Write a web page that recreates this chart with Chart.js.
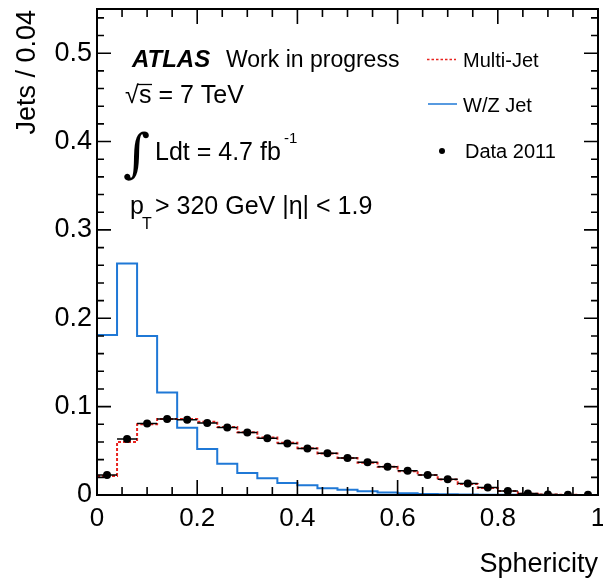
<!DOCTYPE html>
<html>
<head>
<meta charset="utf-8">
<script src="https://cdn.jsdelivr.net/npm/chart.js@4.4.0/dist/chart.umd.min.js"></script>
<style>
  html, body { margin: 0; padding: 0; background: #fff; }
  #wrap { width: 603px; height: 578px; }
</style>
</head>
<body>
<div id="wrap"><canvas id="graph" width="603" height="578"></canvas></div>
<script>
// bin edges of the sphericity histogram (width 0.04)
const binEdges = [0, 0.04, 0.08, 0.12, 0.16, 0.2, 0.24, 0.28, 0.32, 0.36, 0.4, 0.44, 0.48,
                  0.52, 0.56, 0.6, 0.64, 0.68, 0.72, 0.76, 0.8, 0.84, 0.88, 0.92, 0.96, 1.0];

// W/Z Jet (blue)
const wzJet = [0.181, 0.262, 0.180, 0.116, 0.076, 0.052, 0.0355, 0.025, 0.019, 0.0136,
               0.011, 0.0076, 0.006, 0.0042, 0.0027, 0.0019, 0.0012, 0.0008, 0.0006, 0.0004,
               0.0003, 0.0002, 0.0001, 0.0001, 0.0];

// Multi-Jet (red dotted)
const multiJet = [0.0215, 0.060, 0.080, 0.086, 0.086, 0.083, 0.077, 0.071, 0.065, 0.059,
                  0.053, 0.047, 0.042, 0.0365, 0.032, 0.027, 0.0225, 0.0175, 0.0125, 0.008,
                  0.0045, 0.0015, 0.0006, 0.0003, 0.0001];

// Data 2011 (black points)
const data2011 = [0.0227, 0.0634, 0.081, 0.086, 0.0853, 0.0816, 0.0763, 0.0706, 0.0642, 0.0584,
                  0.0525, 0.0472, 0.0419, 0.037, 0.032, 0.0275, 0.0227, 0.0178, 0.013, 0.0085,
                  0.0044, 0.0018, 0.0005, 0.0003, 0.0002];

const xTicks = [0, 0.2, 0.4, 0.6, 0.8, 1];
const yTicks = [0, 0.1, 0.2, 0.3, 0.4, 0.5];
const xLabels = ['0', '0.2', '0.4', '0.6', '0.8', '1'];
const yLabels = ['0', '0.1', '0.2', '0.3', '0.4', '0.5'];

const FONT = '"Liberation Sans", Arial, Helvetica, sans-serif';

// step points: value of bin i at its left edge, last value repeated at the end
function stepPoints(vals) {
    return binEdges.map((e, i) => ({ x: e, y: vals[Math.min(i, vals.length - 1)] }));
}

// horizontal error bars spanning the bin width
function xErrorBars(vals) {
    const pts = [];
    vals.forEach((v, i) => {
        pts.push({ x: binEdges[i], y: v });
        pts.push({ x: binEdges[i + 1], y: v });
        pts.push({ x: binEdges[i + 1], y: null });
    });
    return pts;
}

function binCenters(vals) {
    return vals.map((v, i) => ({ x: (binEdges[i] + binEdges[i + 1]) / 2, y: v }));
}

// frame, inner ticks and the text block, ROOT style
const framePlugin = {
    id: 'frame',
    afterDraw(chart) {
        const ctx = chart.ctx;
        const a = chart.chartArea;
        const xs = chart.scales.x, ys = chart.scales.y;
        ctx.save();
        ctx.strokeStyle = '#000';
        ctx.lineWidth = 2;
        ctx.strokeRect(a.left, a.top, a.right - a.left, a.bottom - a.top);
        ctx.lineWidth = 1.6;
        ctx.beginPath();
        for (let k = 0; k <= 20; k++) {
            const px = xs.getPixelForValue(k * 0.05);
            const len = (k % 4 === 0) ? 15 : 8;
            ctx.moveTo(px, a.bottom); ctx.lineTo(px, a.bottom - len);
            ctx.moveTo(px, a.top); ctx.lineTo(px, a.top + len);
        }
        for (let k = 0; k <= 27; k++) {
            const py = ys.getPixelForValue(k * 0.02);
            const len = (k % 5 === 0) ? 14 : 7;
            ctx.moveTo(a.left, py); ctx.lineTo(a.left + len, py);
            ctx.moveTo(a.right, py); ctx.lineTo(a.right - len, py);
        }
        ctx.stroke();

        // axis titles
        ctx.fillStyle = '#000';
        ctx.font = '27px ' + FONT;
        ctx.textAlign = 'right';
        ctx.textBaseline = 'alphabetic';
        ctx.fillText('Sphericity', a.right, 572);
        ctx.save();
        ctx.translate(35, 10);
        ctx.rotate(-Math.PI / 2);
        ctx.fillText('Jets / 0.04', 0, 0);
        ctx.restore();

        // ATLAS label block
        ctx.textAlign = 'left';
        ctx.font = 'italic bold 24px ' + FONT;
        ctx.fillText('ATLAS', 132, 67);
        ctx.font = '23px ' + FONT;
        ctx.fillText('Work in progress', 226, 67);

        ctx.font = '25px ' + FONT;
        ctx.fillText('\u221A', 125, 103);
        ctx.fillText('s = 7 TeV', 139, 103);
        ctx.lineWidth = 1.3;
        ctx.beginPath();
        ctx.moveTo(138, 84.5); ctx.lineTo(152, 84.5);
        ctx.stroke();

        ctx.font = '52px "DejaVu Serif", serif';
        ctx.fillText('\u222B', 123, 171);
        ctx.font = '25px ' + FONT;
        ctx.fillText('Ldt = 4.7 fb', 155, 160);
        ctx.font = '15px ' + FONT;
        ctx.fillText('-1', 284, 143);

        ctx.font = '25px ' + FONT;
        ctx.fillText('p', 130, 214);
        ctx.font = '16px ' + FONT;
        ctx.fillText('T', 142, 229);
        ctx.font = '25px ' + FONT;
        ctx.fillText('> 320 GeV |\u03B7| < 1.9', 155, 214);

        // legend
        ctx.font = '20px ' + FONT;
        ctx.textBaseline = 'middle';
        ctx.fillText('Multi-Jet', 463, 61);
        ctx.fillText('W/Z Jet', 463, 106);
        ctx.fillText('Data 2011', 465, 152);
        ctx.lineWidth = 1.5;
        ctx.strokeStyle = '#e8231f';
        ctx.setLineDash([2.5, 2]);
        ctx.beginPath(); ctx.moveTo(427, 59.5); ctx.lineTo(456, 59.5); ctx.stroke();
        ctx.setLineDash([]);
        ctx.strokeStyle = '#1f78d6';
        ctx.beginPath(); ctx.moveTo(428, 104); ctx.lineTo(457, 104); ctx.stroke();
        ctx.fillStyle = '#000';
        ctx.beginPath(); ctx.arc(442, 151, 3, 0, Math.PI * 2); ctx.fill();
        ctx.restore();
    }
};

const graph = document.getElementById('graph').getContext('2d');
const sphericityChart = new Chart(graph, {
    type: 'line',
    data: {
        datasets: [
            {
                label: 'Data 2011',
                data: binCenters(data2011),
                showLine: false,
                pointRadius: 4,
                pointBackgroundColor: '#000',
                pointBorderWidth: 0,
                order: 0
            },
            {
                label: 'Data 2011 x-err',
                data: xErrorBars(data2011),
                borderColor: '#000',
                borderWidth: 1.5,
                pointRadius: 0,
                spanGaps: false,
                order: 1
            },
            {
                label: 'Multi-Jet',
                data: stepPoints(multiJet),
                stepped: true,
                borderColor: '#e8231f',
                borderWidth: 2,
                borderDash: [3, 2],
                pointRadius: 0,
                fill: false,
                order: 2
            },
            {
                label: 'W/Z Jet',
                data: stepPoints(wzJet),
                stepped: true,
                borderColor: '#1f78d6',
                borderWidth: 2,
                pointRadius: 0,
                fill: false,
                order: 3
            }
        ]
    },
    options: {
        responsive: false,
        animation: false,
        devicePixelRatio: 1,
        layout: { padding: { top: 9, right: 5, left: 0, bottom: 0 } },
        plugins: { legend: { display: false }, tooltip: { enabled: false } },
        scales: {
            x: {
                type: 'linear',
                min: 0,
                max: 1,
                grid: { display: false, drawTicks: false },
                border: { display: false },
                afterBuildTicks: s => { s.ticks = xTicks.map(v => ({ value: v })); },
                afterFit: s => { s.height = 83; s.paddingLeft = 0; s.paddingRight = 0; },
                ticks: {
                    padding: 8,
                    maxRotation: 0,
                    color: '#000',
                    font: { family: FONT, size: 26 },
                    callback: (v) => xLabels[xTicks.indexOf(v)]
                }
            },
            y: {
                type: 'linear',
                min: 0,
                max: 0.55,
                grid: { display: false, drawTicks: false },
                border: { display: false },
                afterBuildTicks: s => { s.ticks = yTicks.map(v => ({ value: v })); },
                afterFit: s => { s.width = 97; s.paddingTop = 0; s.paddingBottom = 0; },
                ticks: {
                    padding: 5,
                    color: '#000',
                    font: { family: FONT, size: 27 },
                    callback: (v) => yLabels[yTicks.indexOf(v)]
                }
            }
        }
    },
    plugins: [framePlugin]
});
</script>
</body>
</html>
